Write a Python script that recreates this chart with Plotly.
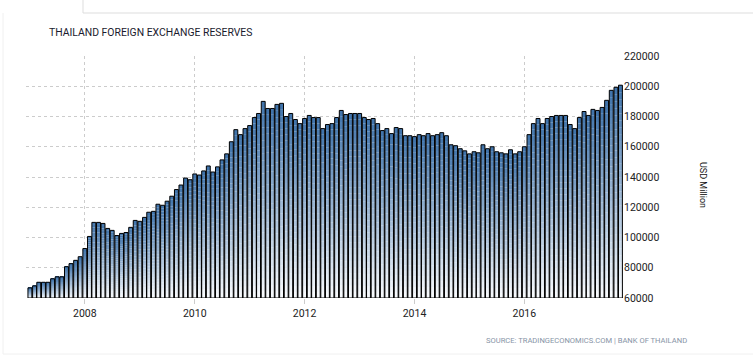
import plotly.graph_objects as go
import pandas as pd

# ---- data ----
start_month = "2007-01-01"
reserves = [
    66700, 68000, 70400, 70400, 70400, 72700, 74000, 74000, 80700, 82700, 84900, 87300,
    92700, 100700, 110000, 110000, 109300, 106000, 104700, 101300, 102700, 103300, 106700, 111300,
    110700, 113300, 116700, 117300, 122000, 121300, 124000, 127300, 131700, 134700, 139300, 138200,
    142000, 141300, 144000, 147300, 143300, 146700, 151300, 155300, 163300, 171300, 168000, 172000,
    174000, 179300, 182000, 190000, 185300, 185300, 188000, 188700, 180000, 182000, 178000, 175300,
    178700, 180700, 179300, 179300, 172000, 174700, 175300, 179300, 184000, 181300, 182000, 182000,
    182000, 179300, 178000, 178700, 175300, 170700, 172000, 168700, 172700, 172000, 167300, 167300,
    166700, 168000, 167300, 168700, 167300, 168000, 169300, 167300, 161300, 160700, 158700, 157300,
    155300, 156700, 156000, 161300, 158700, 160000, 156700, 156000, 155300, 158000, 155300, 156700,
    160000, 168000, 175300, 178700, 175300, 178700, 180000, 180700, 180700, 180700, 174700, 172000,
    179300, 183300, 180700, 184700, 184000, 186000, 190700, 197300, 199300, 200700,
]
dates = pd.date_range(start_month, periods=len(reserves), freq="MS")
y_ticks = [60000, 80000, 100000, 120000, 140000, 160000, 180000, 200000, 220000]
title_text = "THAILAND FOREIGN EXCHANGE RESERVES"
axis_title = "USD Million"
source_text = "SOURCE: TRADINGECONOMICS.COM | BANK OF THAILAND"

# ---- styling / layout ----
W, H = 753, 355
L, R, T, B = 26, 130, 56, 57
YMIN, YMAX = 60000, 220000
FONT = "Roboto"
BAR_W = 26 * 86400000  # ms
TOP = (62, 114, 170)
BOT = (250, 252, 254)
K = 30


def px2x(px):
    return (px - L) / (W - L - R)


def py2y(py):
    return (H - B - py) / (H - T - B)


def mix(t):
    c = [round(BOT[i] + (TOP[i] - BOT[i]) * t) for i in range(3)]
    return f"rgb({c[0]},{c[1]},{c[2]})"


fig = go.Figure()
# gradient fill per bar, made from stacked slices
for k in range(K):
    hk = [(v - YMIN) / K for v in reserves]
    base = [YMIN + h * k for h in hk]
    fig.add_trace(go.Bar(
        x=dates, y=[h * 1.01 for h in hk], base=base, width=BAR_W,
        marker=dict(color=mix((k + 0.5) / K), line=dict(width=0)),
        hoverinfo="skip", showlegend=False,
    ))
# outlines
fig.add_trace(go.Bar(
    x=dates, y=[v - YMIN for v in reserves], base=YMIN, width=BAR_W,
    marker=dict(color="rgba(0,0,0,0)", line=dict(color="black", width=1)),
    showlegend=False, name="Reserves",
))

fig.update_layout(
    width=W, height=H,
    margin=dict(l=L, r=R, t=T, b=B, pad=0),
    barmode="overlay",
    plot_bgcolor="white", paper_bgcolor="white",
    font=dict(family=FONT, size=10.5, color="#222"),
    xaxis=dict(
        type="date",
        range=["2006-12-06", "2017-10-18"],
        tick0="2008-01-01", dtick="M24", tickformat="%Y",
        showgrid=True, gridcolor="#cccccc", griddash="dot", gridwidth=1,
        ticks="outside", ticklen=5, tickcolor="#cccccc",
        showline=False, zeroline=False,
        tickfont=dict(family=FONT, size=10.5, color="#222"),
    ),
    yaxis=dict(
        side="right", range=[YMIN, YMAX],
        tickvals=y_ticks, tickformat="d",
        showgrid=True, gridcolor="#cccccc", griddash="dot", gridwidth=1,
        ticks="", showline=False, zeroline=False,
        tickfont=dict(family=FONT, size=10.5, color="#222"),
    ),
    annotations=[
        dict(text=title_text, xref="paper", yref="paper", x=px2x(47), y=py2y(32),
             xanchor="left", yanchor="middle", showarrow=False,
             font=dict(family=FONT, size=10.4, color="#1a1a2e")),
        dict(text=axis_title, xref="paper", yref="paper", x=px2x(703), y=py2y(185),
             xanchor="center", yanchor="middle", showarrow=False, textangle=90,
             font=dict(family=FONT, size=9, color="#111")),
        dict(text=source_text, xref="paper", yref="paper", x=px2x(689), y=py2y(340),
             xanchor="right", yanchor="middle", showarrow=False,
             font=dict(family=FONT, size=7.6, color="#8794a6")),
    ],
    shapes=[
        dict(type="line", xref="paper", yref="paper", x0=px2x(83), x1=px2x(83),
             y0=py2y(0), y1=py2y(13), line=dict(color="#dddddd", width=1)),
        dict(type="line", xref="paper", yref="paper", x0=px2x(83), x1=px2x(753),
             y0=py2y(13), y1=py2y(13), line=dict(color="#dddddd", width=1)),
        dict(type="line", xref="paper", yref="paper", x0=px2x(3), x1=px2x(3),
             y0=py2y(13), y1=py2y(354), line=dict(color="#f0f0f0", width=1)),
        dict(type="line", xref="paper", yref="paper", x0=px2x(3), x1=px2x(753),
             y0=py2y(354), y1=py2y(354), line=dict(color="#f0f0f0", width=1)),
    ],
)

fig.write_html("out.html", config={"displayModeBar": False},
               post_script="document.body.style.margin='0';")
